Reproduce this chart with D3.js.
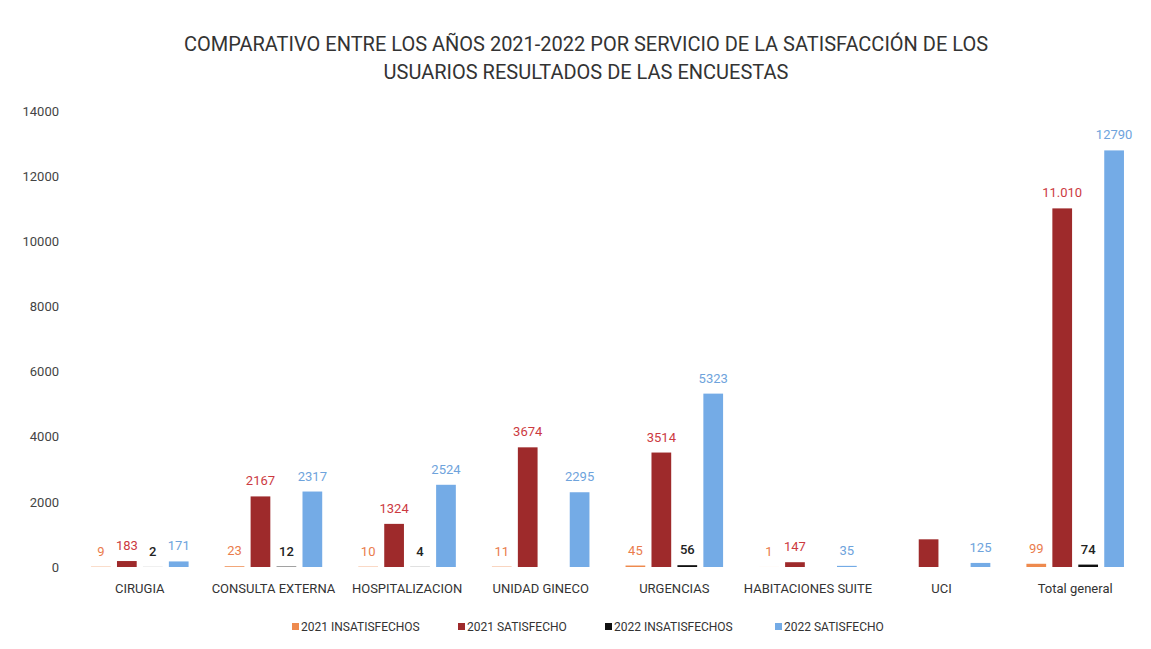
<!DOCTYPE html>
<html>
<head>
<meta charset="utf-8">
<script src="https://cdn.jsdelivr.net/npm/d3@7"></script>
<style>
  body { margin: 0; background: #fff; }
  text { font-family: "Roboto", "Liberation Sans", sans-serif; }
</style>
</head>
<body>
<svg id="chart"></svg>
<script>
const categories = ["CIRUGIA", "CONSULTA EXTERNA", "HOSPITALIZACION", "UNIDAD GINECO",
  "URGENCIAS", "HABITACIONES SUITE", "UCI", "Total general"];
const seriesNames = ["2021 INSATISFECHOS", "2021 SATISFECHO", "2022 INSATISFECHOS", "2022 SATISFECHO"];
const insat2021 = [9, 23, 10, 11, 45, 1, null, 99];
const sat2021 = [183, 2167, 1324, 3674, 3514, 147, 850, 11010];
const insat2022 = [2, 12, 4, null, 56, null, null, 74];
const sat2022 = [171, 2317, 2524, 2295, 5323, 35, 125, 12790];
// labels as printed on the chart (blank = no label shown)
const sat2021Labels = ["183", "2167", "1324", "3674", "3514", "147", "", "11.010"];
const yTicks = [0, 2000, 4000, 6000, 8000, 10000, 12000, 14000];

const width = 1151, height = 649;
const barColors = ["#ee8a4e", "#9e2a2b", "#111111", "#74abe6"];
const labelColors = ["#ea7c4c", "#cc3a3f", "#222222", "#6ea3dc"];

const svg = d3.select("#chart").attr("width", width).attr("height", height);

const series = [insat2021, sat2021, insat2022, sat2022];
const rows = [];
series.forEach((vals, s) => {
  vals.forEach((v, i) => {
    if (v === null) return;
    const label = s === 1 ? sat2021Labels[i] : String(v);
    rows.push({ cat: categories[i], s, v, label });
  });
});

const x = d3.scaleBand().domain(categories).range([73, 1142]).paddingInner(0.27).paddingOuter(0.135);
const xSub = d3.scaleBand().domain(d3.range(4)).range([0, x.bandwidth()]).paddingInner(0.24);
const y = d3.scaleLinear().domain([0, 14000]).range([567, 111]);

// Title
svg.append("text")
  .attr("x", 586).attr("y", 51)
  .attr("text-anchor", "middle")
  .style("font-size", "20px").style("fill", "#333")
  .text("COMPARATIVO ENTRE LOS AÑOS 2021-2022 POR SERVICIO DE LA SATISFACCIÓN DE LOS");
svg.append("text")
  .attr("x", 586).attr("y", 79)
  .attr("text-anchor", "middle")
  .style("font-size", "20px").style("fill", "#333")
  .text("USUARIOS RESULTADOS DE LAS ENCUESTAS");

// Y axis (labels only)
const yAxis = svg.append("g")
  .attr("transform", "translate(59,0)")
  .call(d3.axisLeft(y).tickValues(yTicks).tickFormat(d3.format("d")).tickSize(0).tickPadding(0));
yAxis.select(".domain").remove();
yAxis.selectAll("text").style("font-size", "13px").style("fill", "#444")
  .style("font-family", "Roboto, sans-serif");

// X axis (labels only)
const xAxis = svg.append("g")
  .attr("transform", "translate(0,580)")
  .call(d3.axisBottom(x).tickSize(0).tickPadding(4));
xAxis.select(".domain").remove();
xAxis.selectAll("text").style("font-size", "13px").style("fill", "#333")
  .style("font-family", "Roboto, sans-serif");

// Bars
svg.append("g").selectAll("rect")
  .data(rows)
  .enter().append("rect")
  .attr("x", d => x(d.cat) + xSub(d.s))
  .attr("width", xSub.bandwidth())
  .attr("y", d => y(d.v))
  .attr("height", d => y(0) - y(d.v))
  .attr("fill", d => barColors[d.s]);

// Data labels
svg.append("g").selectAll("text")
  .data(rows.filter(d => d.label !== ""))
  .enter().append("text")
  .attr("x", d => x(d.cat) + xSub(d.s) + xSub.bandwidth() / 2)
  .attr("y", d => y(d.v) - 11)
  .attr("text-anchor", "middle")
  .style("font-size", "13px")
  .style("font-weight", d => d.s === 2 ? "500" : "normal")
  .style("fill", d => labelColors[d.s])
  .text(d => d.label);

// Legend
const legendX = [292, 458, 605, 775];
const legend = svg.append("g");
seriesNames.forEach((name, i) => {
  legend.append("rect")
    .attr("x", legendX[i]).attr("y", 623)
    .attr("width", 7).attr("height", 7)
    .attr("fill", barColors[i]);
  legend.append("text")
    .attr("x", legendX[i] + 9).attr("y", 631)
    .style("font-size", "12px").style("fill", "#333")
    .text(name);
});
</script>
</body>
</html>
